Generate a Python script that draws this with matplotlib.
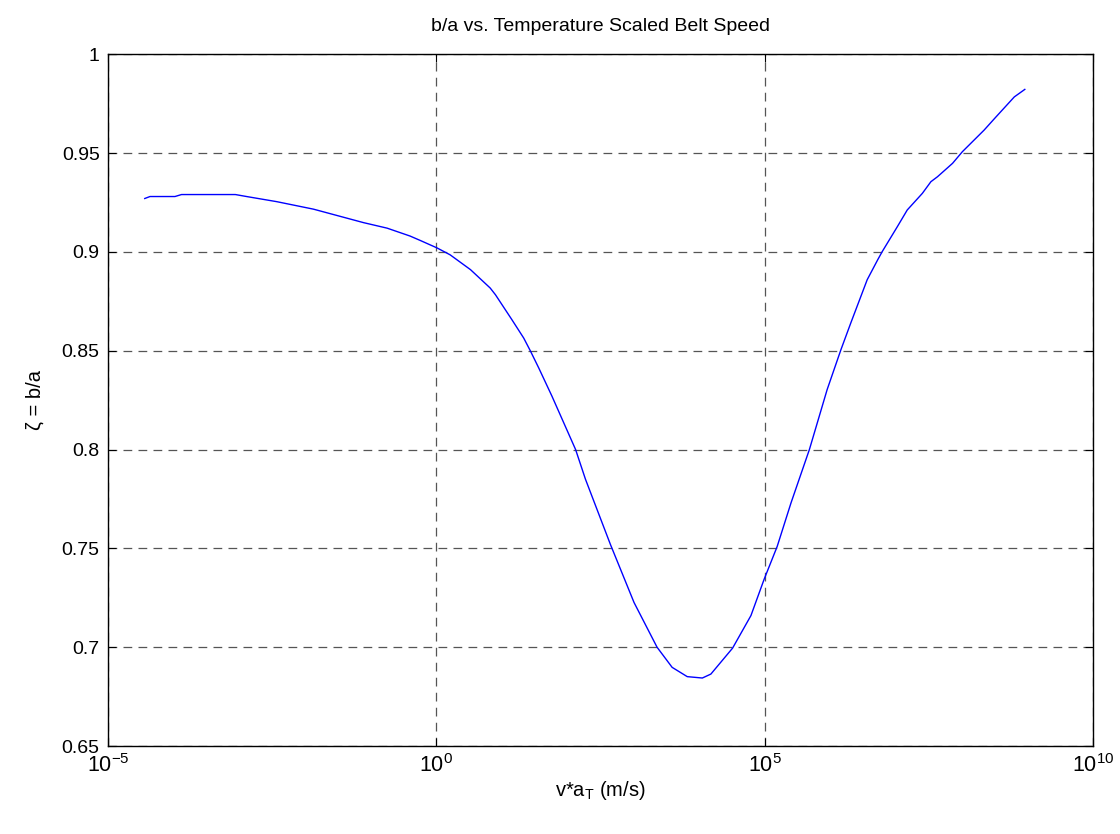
import numpy as np
import matplotlib
matplotlib.use("Agg")
import matplotlib.pyplot as plt
from matplotlib.ticker import NullLocator, LogFormatterSciNotation

plt.rcParams['font.family'] = ['Liberation Sans', 'DejaVu Sans']
plt.rcParams['mathtext.fontset'] = 'custom'
plt.rcParams['mathtext.rm'] = 'Liberation Sans'
plt.rcParams['mathtext.it'] = 'Liberation Sans:italic'
plt.rcParams['mathtext.default'] = 'regular'
plt.rcParams['axes.unicode_minus'] = False

log_speed = [-4.44, -4.36, -3.98, -3.88, -3.06, -2.89, -2.43, -1.87, -1.11, -0.75,
             -0.40, -0.24, 0.01, 0.21, 0.52, 0.82, 0.90, 1.15, 1.33, 1.43, 1.56,
             1.76, 1.94, 2.12, 2.27, 2.65, 3.01, 3.36, 3.59, 3.82, 4.05, 4.18,
             4.51, 4.79, 4.99, 5.19, 5.40, 5.68, 5.95, 6.16, 6.31, 6.56, 6.72,
             6.79, 7.02, 7.17, 7.40, 7.53, 7.63, 7.86, 8.01, 8.34, 8.50, 8.80, 8.96]
ratio = [0.927, 0.928, 0.928, 0.929, 0.929, 0.928, 0.9254, 0.9216, 0.9148, 0.912,
         0.908, 0.9057, 0.902, 0.8985, 0.891, 0.8817, 0.8783, 0.8657, 0.8564, 0.85,
         0.8412, 0.827, 0.8135, 0.800, 0.785, 0.752, 0.7226, 0.700, 0.6898, 0.6851,
         0.6844, 0.6864, 0.6995, 0.716, 0.7343, 0.751, 0.773, 0.800, 0.8303, 0.8505,
         0.864, 0.8859, 0.896, 0.9002, 0.9128, 0.9212, 0.9296, 0.9355, 0.938, 0.9448,
         0.9507, 0.9616, 0.9675, 0.9784, 0.9822]

speed = 10.0 ** np.array(log_speed)

fig = plt.figure(figsize=(11.2, 8.34), dpi=100)
ax = fig.add_axes([0.0964, 0.1055, 0.8796, 0.8295])

ax.plot(speed, ratio, color='#0000ff', linewidth=1.0)

ax.set_xscale('log')
ax.set_xlim(1e-5, 1e10)
ax.set_ylim(0.65, 1.0)
ax.set_xticks([1e-5, 1e0, 1e5, 1e10])
ax.xaxis.set_major_formatter(LogFormatterSciNotation())
ax.xaxis.set_minor_locator(NullLocator())
ax.set_yticks([0.65, 0.7, 0.75, 0.8, 0.85, 0.9, 0.95, 1.0])
ax.set_yticklabels(['0.65', '0.7', '0.75', '0.8', '0.85', '0.9', '0.95', '1'])

ax.tick_params(direction='in', top=True, right=True, length=6, width=0.8)
ax.tick_params(axis='y', labelsize=14, pad=6)
ax.tick_params(axis='x', labelsize=15.5, pad=6)
ax.grid(True, color='#555555', linestyle=(0, (7, 5)), linewidth=0.9)
for s in ax.spines.values():
    s.set_linewidth(1.0)

ax.set_title('b/a vs. Temperature Scaled Belt Speed', fontsize=14, pad=17)
ax.set_xlabel('v*a$_T$ (m/s)', fontsize=14.5, labelpad=1)
ax.set_ylabel('ζ = b/a', fontsize=14.5, labelpad=12)

plt.savefig('out.png', dpi=100)
plt.close()
